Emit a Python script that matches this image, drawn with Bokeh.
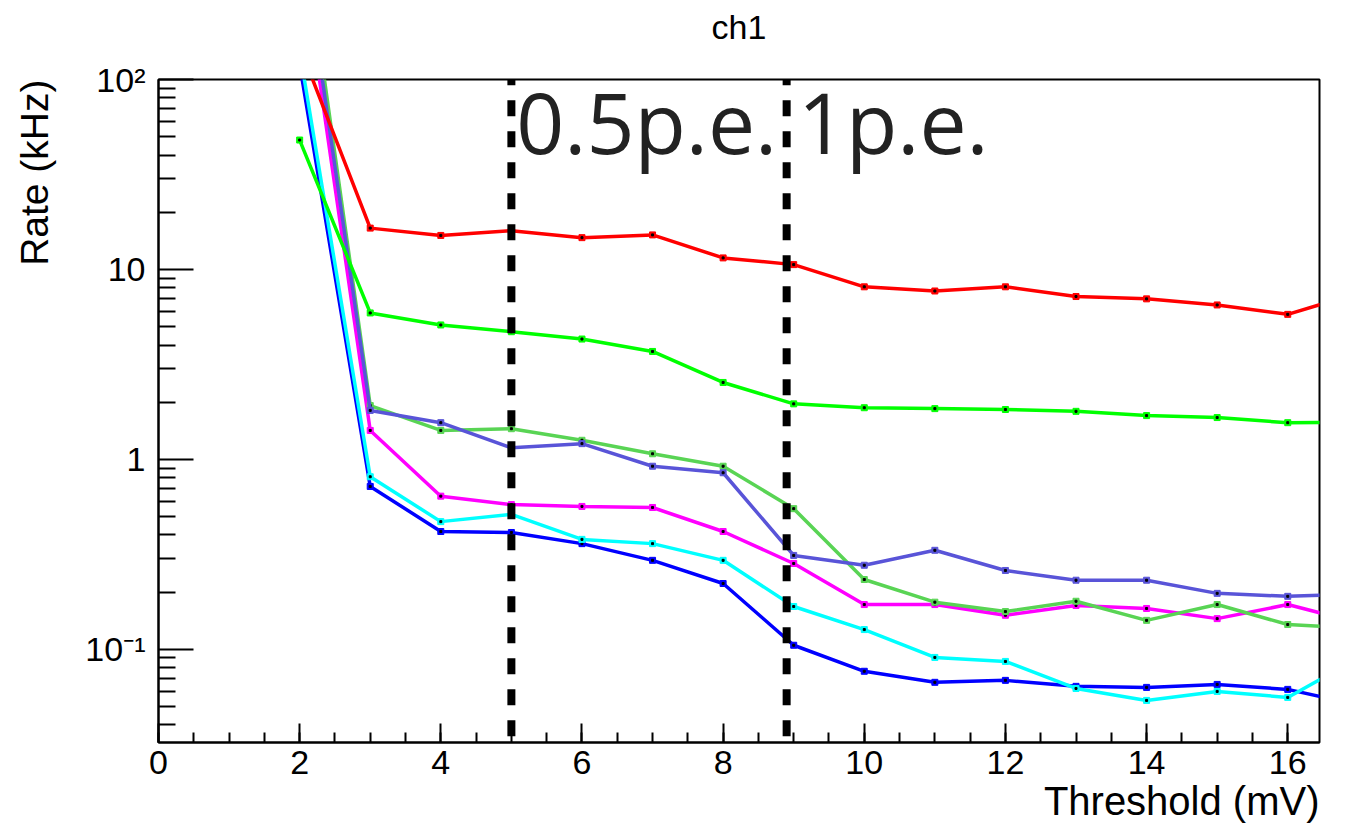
from bokeh.plotting import figure
from bokeh.models import Range1d, FixedTicker, Label, CustomJSTickFormatter, Title
from bokeh.embed import file_html
from bokeh.resources import INLINE

# ---- data ----
threshold = [2, 3, 4, 5, 6, 7, 8, 9, 10, 11, 12, 13, 14, 15, 16, 17]
rate_red = [150, 16.5, 15.1, 16.0, 14.7, 15.2, 11.5, 10.6, 8.1, 7.7, 8.1, 7.2, 7.0, 6.5, 5.8, 7.5]
rate_green = [48, 5.9, 5.1, 4.7, 4.3, 3.7, 2.54, 1.96, 1.87, 1.85, 1.83, 1.79, 1.70, 1.66, 1.56, 1.57]
rate_lightgreen = [850, 1.92, 1.42, 1.45, 1.26, 1.07, 0.92, 0.55, 0.233, 0.177, 0.158, 0.179, 0.142, 0.172, 0.135, 0.129]
rate_slate = [670, 1.81, 1.56, 1.15, 1.21, 0.92, 0.85, 0.312, 0.277, 0.332, 0.26, 0.231, 0.231, 0.197, 0.19, 0.195]
rate_magenta = [525, 1.42, 0.64, 0.578, 0.565, 0.558, 0.417, 0.283, 0.172, 0.172, 0.151, 0.17, 0.164, 0.145, 0.172, 0.138]
rate_cyan = [141, 0.81, 0.47, 0.513, 0.379, 0.36, 0.294, 0.168, 0.127, 0.0906, 0.0863, 0.0622, 0.0538, 0.060, 0.0558, 0.09]
rate_blue = [120, 0.72, 0.417, 0.412, 0.36, 0.294, 0.222, 0.105, 0.0766, 0.067, 0.0686, 0.0638, 0.063, 0.0653, 0.0615, 0.051]

pe_lines = [5.0, 8.9]
pe_texts = ["0.5p.e.", "1p.e."]
pe_text_x = [5.07, 9.06]

x_ticks = [0, 2, 4, 6, 8, 10, 12, 14, 16]
y_ticks = [0.1, 1, 10, 100]

XMIN, XMAX = 0, 16.45
YMIN, YMAX = 0.0323, 100

series = [
    (rate_blue, "#0000ff"),
    (rate_cyan, "#00ffff"),
    (rate_magenta, "#ff00ff"),
    (rate_lightgreen, "#59d454"),
    (rate_slate, "#5954d8"),
    (rate_green, "#00ff00"),
    (rate_red, "#ff0000"),
]

FONT = "Liberation Sans"

p = figure(width=1348, height=826,
           x_range=Range1d(XMIN, XMAX), y_range=Range1d(YMIN, YMAX),
           y_axis_type="log", output_backend="svg", toolbar_location=None,
           min_border_left=158, min_border_right=29, min_border_top=79, min_border_bottom=84)

# spacer between frame and title, then the title itself (further out)
p.add_layout(Title(text=" ", text_font=FONT, text_font_size="16px"), "above")
p.add_layout(Title(text="ch1", align="center", text_font=FONT, text_font_size="34px",
                   text_font_style="normal", text_color="black"), "above")

p.xgrid.visible = False
p.ygrid.visible = False
p.outline_line_color = "black"
p.outline_line_width = 2
p.background_fill_color = "white"
p.border_fill_color = "white"

# axes
p.xaxis.ticker = FixedTicker(ticks=x_ticks, minor_ticks=[i * 0.5 for i in range(0, 34)])
p.yaxis.ticker = FixedTicker(ticks=y_ticks,
                             minor_ticks=[m * 10 ** e for e in range(-2, 2) for m in range(2, 10)])
p.yaxis.formatter = CustomJSTickFormatter(code="""
const e = Math.round(Math.log10(tick));
const m = {'-1': '10\u207b\u00b9', '0': '1', '1': '10', '2': '10\u00b2'};
return (m[String(e)] !== undefined) ? m[String(e)] : String(tick);
""")
for ax in (p.xaxis[0], p.yaxis[0]):
    ax.axis_line_width = 2
    ax.axis_line_color = "black"
    ax.major_tick_line_width = 2
    ax.minor_tick_line_width = 2
    ax.major_tick_out = 0
    ax.minor_tick_out = 0
    ax.major_label_text_font = FONT
    ax.major_label_text_font_size = "34px"
    ax.major_label_text_color = "black"
p.xaxis.major_label_standoff = 8
p.yaxis.major_label_standoff = 13
p.xaxis.major_tick_in = 19
p.xaxis.minor_tick_in = 10
p.yaxis.major_tick_in = 35
p.yaxis.minor_tick_in = 17

# axis titles (ROOT style: at the far end of each axis)
p.add_layout(Title(text=" ", text_font=FONT, text_font_size="8px"), "left")
p.add_layout(Title(text="Rate (kHz)", align="right", text_font=FONT, text_font_size="39px",
                   text_font_style="normal", text_color="black", standoff=12), "left")
p.add_layout(Title(text="Threshold (mV)", align="right", text_font=FONT, text_font_size="40px",
                   text_font_style="normal", text_color="black", standoff=0), "below")

# series
for vals, col in series:
    p.line(threshold, vals, line_color=col, line_width=3.5)
    p.scatter(threshold, vals, marker="square", size=6, fill_color=col, line_color=col)
    p.scatter(threshold, vals, marker="square", size=2, fill_color="black", line_color="black")

# dashed p.e. lines
for xv in pe_lines:
    p.line([xv, xv], [YMIN * 1.08, YMAX], line_color="black", line_width=8,
           line_dash="16 15", line_cap="butt")

# p.e. texts
for xt, txt in zip(pe_text_x, pe_texts):
    p.add_layout(Label(x=xt, y=60, text=txt, text_font="Open Sans",
                       text_font_size="84px", text_color="#222222",
                       text_baseline="alphabetic", text_align="left"))

open("out.html", "w").write(file_html(p, INLINE))
